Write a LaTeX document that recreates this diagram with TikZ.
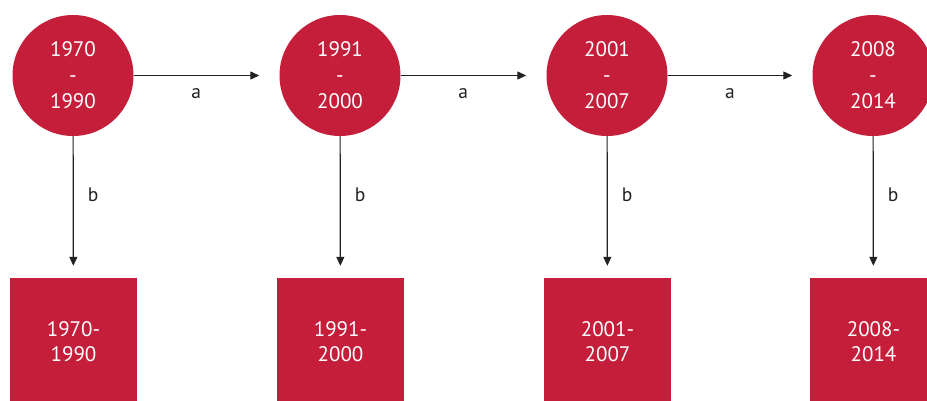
\documentclass[tikz,border=0pt]{standalone}
\usepackage{fontspec}
\setmainfont{PT Sans}
\usepackage{tikz}
\usetikzlibrary{positioning}
\usetikzlibrary{arrows.meta}
\definecolor{crimson}{RGB}{196,30,58}
\definecolor{ink}{RGB}{34,34,34}
\tikzset{>={Triangle[width=8pt,length=9pt]}}

\begin{document}
\begin{tikzpicture}[x=1pt,y=-1pt]
      \useasboundingbox (0,0) rectangle (927,400);
      \clip (0,0) rectangle (927,400);
        \tikzstyle{pnode} = [fill=crimson, circle, inner sep = 0pt, minimum size = 121pt, align=center, text=white, font=\fontsize{21}{26}\selectfont]
        \tikzstyle{bnode} = [fill=crimson, rectangle, inner sep = 0pt, minimum size = 127pt, align=center, text=white, font=\fontsize{21}{25}\selectfont]
        \tikzstyle{elabel} = [text=ink, font=\fontsize{19.5}{22}\selectfont]

        % periods
        \node[pnode] (p1) at (73,75.5) {1970\\-\\1990};
        \node[pnode] (p2) at (340,75.5) {1991\\-\\2000};
        \node[pnode] (p3) at (607,75.5) {2001\\-\\2007};
        \node[pnode] (p4) at (873,75.5) {2008\\-\\2014};

        % boxes
        \node[bnode] (b1) at (73.5,341.5) {1970-\\1990};
        \node[bnode] (b2) at (340.5,341.5) {1991-\\2000};
        \node[bnode] (b3) at (607.5,341.5) {2001-\\2007};
        \node[bnode] (b4) at (873.5,341.5) {2008-\\2014};

        \path[->, draw, line width=1.2pt, ink, shorten >=20pt]
        (p1) edge node[elabel, pos=0.43, yshift=-18pt] {a} (p2)
        (p2) edge node[elabel, pos=0.43, yshift=-18pt] {a} (p3)
        (p3) edge node[elabel, pos=0.43, yshift=-18pt] {a} (p4)
        ;
        \path[->, draw, line width=1.2pt, ink, shorten >=12pt]
        (p1) edge node[elabel, pos=0.415, xshift=20pt] {b} (b1)
        (p2) edge node[elabel, pos=0.415, xshift=20pt] {b} (b2)
        (p3) edge node[elabel, pos=0.415, xshift=20pt] {b} (b3)
        (p4) edge node[elabel, pos=0.415, xshift=20pt] {b} (b4)
        ;
    \end{tikzpicture}
\end{document}
